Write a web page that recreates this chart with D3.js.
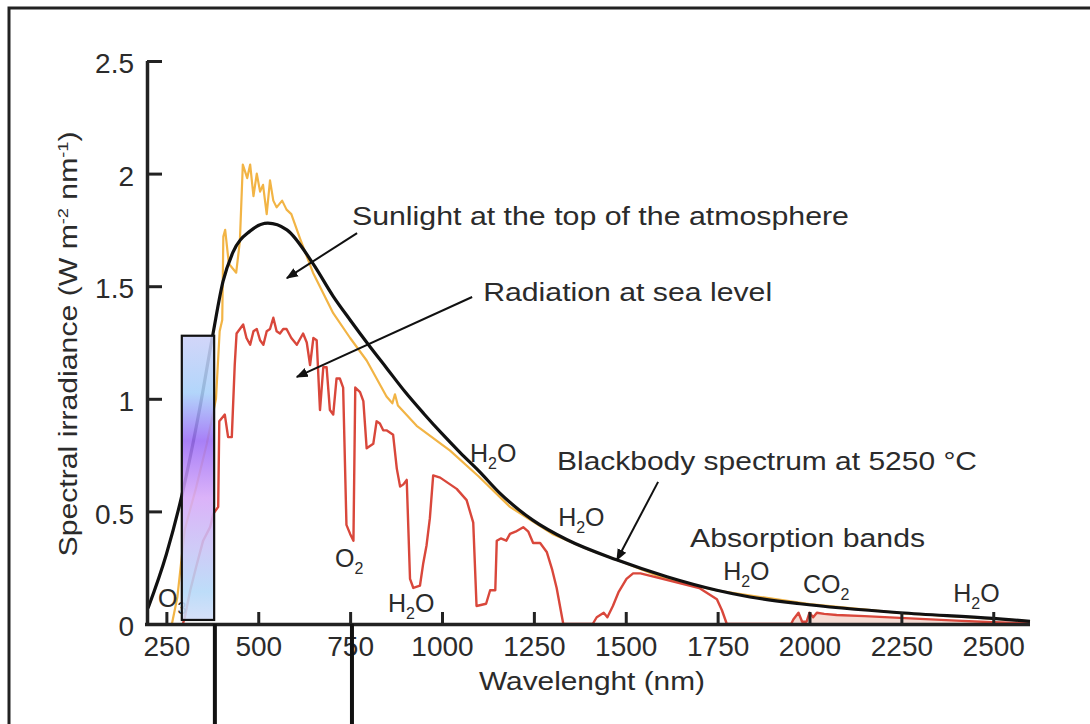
<!DOCTYPE html>
<html><head><meta charset="utf-8">
<script src="https://cdn.jsdelivr.net/npm/d3@7"></script>
<style>
html,body{margin:0;padding:0;background:#fff;}
svg{display:block;}
text{font-family:"Liberation Sans", Arial, sans-serif; fill:#2b2b2b;}
</style></head><body>
<svg id="chart" width="1090" height="724"></svg>
<script>
// ---------------- data ----------------
const blackbodyWavelength = [200,250,292,340,377,404,431,478,526,578,649,704,750,800,850,900,950,1000,1050,1100,1158,1248,1339,1475,1612,1748,1838,1974,2246,2499,2600];
const blackbodyIrradiance = [0.07,0.31,0.57,0.95,1.29,1.52,1.65,1.745,1.78,1.75,1.6,1.455,1.35,1.24,1.135,1.03,0.935,0.845,0.76,0.68,0.58,0.46,0.375,0.285,0.21,0.15,0.12,0.09,0.05,0.025,0.012];

const topWavelength = [265,280,300,330,360,385,395,402,405,410,420,440,450,458,470,478,487,496,505,513,523,532,541,550,565,577,590,614,649,704,750,795,849,865,872,880,931,1022,1100,1185,1300,1400,1500,1600,1750,2000,2250,2500,2600];
const topIrradiance = [0,0.12,0.42,0.6,0.8,1.0,1.3,1.35,1.72,1.75,1.6,1.56,1.7,2.04,1.98,2.04,1.9,2.0,1.92,1.95,1.82,1.97,1.88,1.85,1.88,1.84,1.82,1.71,1.56,1.38,1.27,1.17,1.01,0.98,1.02,0.97,0.88,0.77,0.655,0.52,0.4,0.33,0.27,0.205,0.148,0.088,0.048,0.024,0.012];

const seaWavelength = [295,300,315,332,350,369,378,391,394,409,418,428,436,441,450,459,468,478,487,496,505,514,523,532,541,550,559,568,577,590,605,622,632,641,650,659,668,677,686,695,704,713,722,731,740,750,759,764,777,786,795,813,822,831,840,849,867,877,886,895,904,913,922,940,949,958,967,976,995,1040,1067,1085,1094,1120,1131,1145,1149,1160,1175,1185,1200,1221,1235,1248,1267,1285,1300,1312,1330,1410,1421,1440,1450,1465,1480,1502,1520,1540,1600,1700,1748,1762,1775,1950,1956,1970,1980,1992,2000,2010,2020,2040,2074,2150,2246,2400,2500,2600];
const seaIrradiance = [0,0.03,0.15,0.26,0.37,0.43,0.49,0.52,0.9,0.93,0.83,0.83,1.15,1.29,1.31,1.33,1.27,1.24,1.3,1.31,1.26,1.24,1.3,1.31,1.36,1.3,1.29,1.31,1.31,1.27,1.24,1.29,1.25,1.15,1.27,1.26,0.95,1.14,1.14,0.95,0.93,1.09,1.09,1.05,0.44,0.4,0.37,1.05,1.03,0.99,0.78,0.8,0.9,0.89,0.86,0.86,0.84,0.69,0.61,0.62,0.64,0.2,0.16,0.17,0.27,0.35,0.47,0.66,0.65,0.6,0.55,0.45,0.08,0.09,0.15,0.15,0.37,0.38,0.37,0.4,0.41,0.43,0.41,0.36,0.36,0.32,0.24,0.16,0,0,0.03,0.05,0.03,0.08,0.14,0.2,0.225,0.225,0.2,0.16,0.11,0.06,0,0,0.02,0.05,0.01,0.01,0.05,0.03,0.05,0.045,0.04,0.035,0.027,0.015,0.008,0.003];

const xTicks = [250,500,750,1000,1250,1500,1750,2000,2250,2500];
const yTicks = [0,0.5,1,1.5,2,2.5];

const uvBandWavelength = [292, 380];
const uvBandIrradiance = [0.018, 1.28];
const visibleBounds = [382, 755];
const shadedFrom = 1950; // faint shading under the sea-level curve in the far infrared

// labels: parts [text, kind] ; anchor in data units
const labelTexts = [
  {parts:[["Sunlight at the top of the atmosphere",""]], wl:755, v:1.772},
  {parts:[["Radiation at sea level",""]], wl:1112, v:1.434},
  {parts:[["H",""],["2","sub"],["O",""]], wl:1076, v:0.719},
  {parts:[["Blackbody spectrum at 5250 °C",""]], wl:1313, v:0.684},
  {parts:[["H",""],["2","sub"],["O",""]], wl:1316, v:0.435},
  {parts:[["Absorption bands",""]], wl:1675, v:0.342},
  {parts:[["H",""],["2","sub"],["O",""]], wl:1765, v:0.195},
  {parts:[["CO",""],["2","sub"]], wl:1982, v:0.138},
  {parts:[["H",""],["2","sub"],["O",""]], wl:2391, v:0.098},
  {parts:[["O",""],["2","sub"]], wl:709, v:0.253},
  {parts:[["H",""],["2","sub"],["O",""]], wl:853, v:0.053},
  {parts:[["O",""],["3","sub"]], wl:227, v:0.075}
];
const arrowFrom = [[769,1.736],[1082,1.452],[1588,0.631]];
const arrowTo   = [[578,1.536],[605,1.097],[1476,0.284]];

// ---------------- layout ----------------
const svg = d3.select("#chart");
const x = d3.scaleLinear().domain([200,2600]).range([148,1030]);
const y = d3.scaleLinear().domain([0,2.5]).range([624,61]);
const labelWidths = [497,289,null,420,null,235,null,null,null,null,null,null];

// frame
svg.append("path").attr("d","M9,724 V8 H1090").attr("fill","none").attr("stroke","#222").attr("stroke-width",3);

const defs = svg.append("defs");
const grad = defs.append("linearGradient").attr("id","uv").attr("x1",0).attr("y1",0).attr("x2",0).attr("y2",1);
[["0%","#ccd0f8"],["20%","#a8d0fa"],["37%","#9c6ef6"],["57%","#d6a8f8"],["75%","#c8c4f6"],["90%","#b4d8f8"],["100%","#d0dcf8"]]
 .forEach(s=>grad.append("stop").attr("offset",s[0]).attr("stop-color",s[1]));
defs.append("marker").attr("id","ah").attr("viewBox","0 0 10 10").attr("refX",9).attr("refY",5)
  .attr("markerWidth",6).attr("markerHeight",6).attr("orient","auto").attr("markerUnits","strokeWidth")
  .append("path").attr("d","M0,1 L10,5 L0,9 Z").attr("fill","#111");

// curves
const zip = (a,b)=>a.map((v,i)=>[v,b[i]]);
const seaPts = zip(seaWavelength,seaIrradiance);
svg.append("path").datum(seaPts.filter(d=>d[0]>=shadedFrom))
  .attr("d",d3.area().x(d=>x(d[0])).y0(y(0)).y1(d=>y(d[1])))
  .attr("fill","#f0c4b8").attr("fill-opacity",0.6);
const line = d3.line().x(d=>x(d[0])).y(d=>y(d[1]));
svg.append("path").datum(zip(topWavelength,topIrradiance)).attr("d",line)
  .attr("fill","none").attr("stroke","#f2b445").attr("stroke-width",2.2).attr("stroke-linejoin","round");
svg.append("path").datum(seaPts).attr("d",line)
  .attr("fill","none").attr("stroke","#d9473b").attr("stroke-width",2.4).attr("stroke-linejoin","round");
svg.append("path").datum(zip(blackbodyWavelength,blackbodyIrradiance))
  .attr("d",d3.line().x(d=>x(d[0])).y(d=>y(d[1])).curve(d3.curveMonotoneX))
  .attr("fill","none").attr("stroke","#111").attr("stroke-width",3.2);

// axes
const xAxis = d3.axisBottom(x).tickValues(xTicks).tickSizeInner(-12).tickSizeOuter(0).tickPadding(12).tickFormat(d3.format("d"));
const gx = svg.append("g").attr("transform","translate(0,624)").call(xAxis);
const yAxis = d3.axisLeft(y).tickValues(yTicks).tickSizeInner(-15).tickSizeOuter(0).tickPadding(13).tickFormat(d=>String(d));
const gy = svg.append("g").attr("transform","translate(147,0)").call(yAxis);
[gx,gy].forEach(g=>{
  g.select(".domain").attr("stroke","#222").attr("stroke-width",3.5);
  g.selectAll(".tick line").attr("stroke","#222").attr("stroke-width",3);
  g.selectAll(".tick text").attr("font-size",28).attr("fill","#2b2b2b").attr("font-family","Liberation Sans, Arial, sans-serif");
});
gx.select(".domain").attr("d","M145,0.5H1030");
gy.select(".domain").attr("d","M0.5,61V626");
gy.selectAll(".tick text").attr("dy","0.42em");

// axis titles
svg.append("text").attr("x",592).attr("y",690).attr("text-anchor","middle").attr("font-size",26)
  .attr("textLength",226).attr("lengthAdjust","spacingAndGlyphs").text("Wavelenght (nm)");
const yt = svg.append("text").attr("transform","translate(77,344) rotate(-90)").attr("text-anchor","middle")
  .attr("font-size",25).attr("textLength",425).attr("lengthAdjust","spacingAndGlyphs");
yt.append("tspan").text("Spectral irradiance (W m");
yt.append("tspan").attr("dy",-9).attr("font-size",15).text("-2");
yt.append("tspan").attr("dy",9).text(" nm");
yt.append("tspan").attr("dy",-9).attr("font-size",15).text("-1");
yt.append("tspan").attr("dy",9).text(")");

// annotation labels
labelTexts.forEach((L,i)=>{
  const t = svg.append("text").attr("x",x(L.wl)).attr("y",y(L.v)).attr("font-size",25);
  if(labelWidths[i]) t.attr("textLength",labelWidths[i]).attr("lengthAdjust","spacingAndGlyphs");
  let shift = 0;
  L.parts.forEach(p=>{
    const ts = t.append("tspan").text(p[0]);
    if(p[1]==="sub"){ ts.attr("dy",7-shift).attr("font-size",16); shift=7; }
    else { if(shift){ ts.attr("dy",-shift); shift=0; } }
  });
});

// arrows
arrowFrom.forEach((f,i)=>{
  svg.append("line").attr("x1",x(f[0])).attr("y1",y(f[1])).attr("x2",x(arrowTo[i][0])).attr("y2",y(arrowTo[i][1]))
    .attr("stroke","#111").attr("stroke-width",2).attr("marker-end","url(#ah)");
});

// UV band overlay
svg.append("rect").attr("x",x(uvBandWavelength[0])).attr("y",y(uvBandIrradiance[1]))
  .attr("width",x(uvBandWavelength[1])-x(uvBandWavelength[0])).attr("height",y(uvBandIrradiance[0])-y(uvBandIrradiance[1]))
  .attr("fill","url(#uv)").attr("fill-opacity",0.88).attr("stroke","#111").attr("stroke-width",2.2);

// visible band markers
visibleBounds.forEach(b=>{
  svg.append("line").attr("x1",x(b)).attr("x2",x(b)).attr("y1",y(0)).attr("y2",724)
    .attr("stroke","#111").attr("stroke-width",4);
});
</script></body></html>
